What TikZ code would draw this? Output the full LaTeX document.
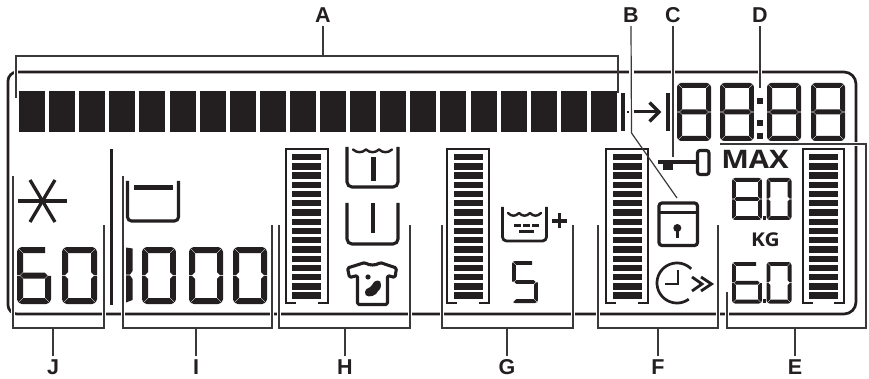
\documentclass[tikz,border=0pt]{standalone}
\usepackage{fontspec}
\setmainfont{Liberation Sans}
\newfontfamily\opfont{Open Sans}
\definecolor{ink}{HTML}{231F20}
\definecolor{leadc}{HTML}{3A3839}
\tikzset{
  lbl/.style={font=\bfseries\fontsize{21.5}{24}\selectfont,text=ink,inner sep=3pt},
  lead/.style={draw=leadc,line width=1.2pt},
  halo/.style={draw=white,line width=4.5pt},
  frameline/.style={draw=ink,line width=2.7pt},
  icon/.style={draw=ink,line width=3.1pt},
  gaugeline/.style={draw=ink,line width=2.2pt},
  seg/.style={fill=ink,draw=none},
}
\def\G{0.4}
\newcommand\sega{\fill[seg] (\G,0)--({\W-\G},0)--({\W-\T-\G},\T)--({\T+\G},\T)--cycle;}
\newcommand\segp{\fill[seg] (\G,0)--({\W-6},0)--({\W-6},\T)--({\T+\G},\T)--cycle;}
\newcommand\segb{\fill[seg] (\W,\G)--(\W,{\M-\G})--({\W-\T/2},{\M-\G})--({\W-\T},{\M-\T/2-\G})--({\W-\T},{\T+\G})--cycle;}
\newcommand\segc{\fill[seg] (\W,{\H-\G})--(\W,{\M+\G})--({\W-\T/2},{\M+\G})--({\W-\T},{\M+\T/2+\G})--({\W-\T},{\H-\T-\G})--cycle;}
\newcommand\segd{\fill[seg] (\G,\H)--({\W-\G},\H)--({\W-\T-\G},{\H-\T})--({\T+\G},{\H-\T})--cycle;}
\newcommand\sege{\fill[seg] (0,{\H-\G})--(0,{\M+\G})--({\T/2},{\M+\G})--(\T,{\M+\T/2+\G})--(\T,{\H-\T-\G})--cycle;}
\newcommand\segf{\fill[seg] (0,\G)--(0,{\M-\G})--({\T/2},{\M-\G})--(\T,{\M-\T/2-\G})--(\T,{\T+\G})--cycle;}
\newcommand\segg{\fill[seg] ({\T/2+\G},\M)--({\T+\G},{\M-\T/2})--({\W-\T-\G},{\M-\T/2})--({\W-\T/2-\G},\M)--({\W-\T-\G},{\M+\T/2})--({\T+\G},{\M+\T/2})--cycle;}
\newcommand\dig[6]{%
  \begin{scope}[shift={(#1,#2)}]
    \def\W{#3}\def\H{#4}\def\T{#5}\pgfmathsetmacro\M{#4/2}
    \clip[rounded corners=#5*0.8pt] (0,0) rectangle (\W,\H);
    \foreach \s in {#6}{\csname seg\s\endcsname}
  \end{scope}}
\newcommand\gauge[4]{%
  \draw[gaugeline] ({#1+10},303)--(#1,303)--(#1,149)--(#2,149)--(#2,303)--({#2-10},303);
  \foreach \i in {0,...,15}{\fill[ink] (#3,{154+9.23*\i}) rectangle (#4,{160.3+9.23*\i});}}
\newcommand\wave[3]{%
  \draw[ink,line width=2.4pt,line cap=round,line join=round] (#1,#2)
    .. controls ({#1+0.3*#3},{#2+3.6}) and ({#1+0.7*#3},{#2+3.6}) .. ({#1+#3},#2)
    .. controls ({#1+1.3*#3},{#2+3.6}) and ({#1+1.7*#3},{#2+3.6}) .. ({#1+2*#3},#2)
    .. controls ({#1+2.3*#3},{#2+3.6}) and ({#1+2.7*#3},{#2+3.6}) .. ({#1+3*#3},#2);}
\begin{document}
\begin{tikzpicture}[x=1pt,y=-1pt]
\useasboundingbox[fill=white] (0,0) rectangle (869,379);
% frame
\draw[frameline,rounded corners=9pt] (8,200)--(8,72)--(400,72);
\draw[frameline,rounded corners=12pt] (400,72)--(856,72)--(856,314)--(400,314);
\draw[frameline,rounded corners=9pt] (400,314)--(8,314)--(8,200);
% coordinates of the brackets
\coordinate (al) at (16,98); \coordinate (ar) at (618,93);
\coordinate (jl) at (13,176); \coordinate (jr) at (104,225);
\coordinate (il) at (123,176); \coordinate (ir) at (272,225);
\coordinate (hl) at (279,225); \coordinate (hr) at (410,225);
\coordinate (gl) at (442,225); \coordinate (gr) at (573,225);
\coordinate (fl) at (598,225); \coordinate (fr) at (718,225);
\coordinate (el) at (727,292); \coordinate (er) at (720,144);
\coordinate (bbend) at (631.5,133); \coordinate (bend) at (677,198);
\coordinate (ckey) at (673,157); \coordinate (dend) at (760,88);
% labels
\node[lbl] (A) at (323,15.5) {A};
\node[lbl] (B) at (631,15.5) {B};
\node[lbl] (C) at (673,15.5) {C};
\node[lbl] (D) at (760,15.5) {D};
\node[lbl] (J) at (53,367) {J};
\node[lbl] (I) at (196,367) {I};
\node[lbl] (H) at (345,367) {H};
\node[lbl] (G) at (507,367) {G};
\node[lbl] (F) at (658,367) {F};
\node[lbl] (E) at (795,367) {E};
% halos that break the frame
\foreach \p in {jl,jr,il,ir,hl,hr,gl,gr,fl,fr,el}{\draw[halo] (\p) -- (\p |- 0,320);}
\draw[halo] (16,56)--(al);
\draw[halo] (631.5,56)--(631.5,80);
\draw[halo] (673,56)--(673,80);
\draw[halo] (760,56)--(760,80);
\draw[draw=white,line width=3.5pt] (850,144)--(862,144);
% top bar row
\foreach \i in {0,...,19}{\fill[ink] ({19+30.1*\i},91) rectangle ({45+30.1*\i},132);}
\fill[ink] (621,93) rectangle (625,131);
\fill[ink] (627,110.8) rectangle (629.2,113.2);
\draw[ink,line width=3pt] (634,112)--(658,112);
\draw[ink,line width=3.4pt,line join=miter] (649.5,102.5)--(659,112)--(649.5,121.5);
\fill[ink] (666,93) rectangle (670,131);
% clock digits
\dig{677}{83}{34}{58}{5}{a,b,c,d,e,f,g}
\dig{720}{83}{34}{58}{5}{a,b,c,d,e,f,g}
\dig{767}{83}{34}{58}{5}{a,b,c,d,e,f,g}
\dig{811}{83}{34}{58}{5}{a,b,c,d,e,f,g}
\fill[ink] (757,98) rectangle (763,104);
\fill[ink] (757,120) rectangle (763,126);
\fill[ink] (757,133) rectangle (763,139);
% key
\draw[ink,line width=4pt] (658,162)--(697,162);
\fill[ink] (663,162) rectangle (673,170);
\draw[icon,rounded corners=2.5pt] (697.5,150.5) rectangle (709,174.5);
% MAX, KG
\node[inner sep=0,text=ink,font=\opfont\bfseries\fontsize{25.5}{28}\selectfont,xscale=1.15] (max) at (755,159) {MAX};
\node[inner sep=0,text=ink,font=\opfont\bfseries\fontsize{19}{22}\selectfont,xscale=1.1] (kg) at (765.5,240) {KG};
% weight digits
\dig{732}{178}{30}{42}{3.8}{a,b,c,d,e,f,g}
\fill[ink] (762.5,216.2) rectangle (765.5,220);
\dig{766.5}{178}{25}{42}{3.8}{a,b,c,d,e,f}
\dig{732}{262}{30}{41.5}{3.8}{p,c,d,e,f,g}
\fill[ink] (762.5,299.2) rectangle (765.5,303);
\dig{766.5}{262}{25}{41.5}{3.8}{a,b,c,d,e,f}
% gauges
\gauge{286}{328}{292}{321}
\gauge{447}{489}{454}{483}
\gauge{606}{648}{613}{642}
\gauge{803}{844}{809}{838}
% J and I content
\draw[ink,line width=3.3pt] (18,201)--(67,201);
\draw[ink,line width=3.3pt] (30,180)--(55,222);
\draw[ink,line width=3.3pt] (55,180)--(30,222);
\dig{17}{247}{34}{57}{6}{p,c,d,e,f,g}
\dig{62}{247}{35}{57}{6}{a,b,c,d,e,f}
\fill[ink] (109.5,149) rectangle (113,305);
\draw[icon,rounded corners=4pt] (127.5,181)--(127.5,221)--(178.5,221)--(178.5,181);
\fill[ink] (134,185.5) rectangle (173,190.5);
\fill[ink] (126,247.5)--(132.5,248.5)--(132.5,271)--(130,274.6)--(126,274.6)--cycle;
\fill[ink] (126,302.5)--(132.5,300)--(132.5,279)--(130,275.4)--(126,275.4)--cycle;
\dig{142}{247}{34}{57}{6}{a,b,c,d,e,f}
\dig{189}{247}{34}{57}{6}{a,b,c,d,e,f}
\dig{233}{247}{34}{57}{6}{a,b,c,d,e,f}
% H icons
\draw[icon,rounded corners=5pt] (347,147)--(347,187)--(398,187)--(398,147);
\wave{353}{149.5}{13}
\fill[ink] (371,157) rectangle (375.5,181);
\draw[icon,rounded corners=5pt] (347,203)--(347,244)--(398,244)--(398,203);
\fill[ink] (371,203) rectangle (375.2,233);
\draw[icon,line join=round,rounded corners=1.5pt] (365,262.5)
  .. controls (369,265.5) and (376,265.5) .. (380,262.5)
  --(396.5,268)--(395,277.5)--(387.5,275.5)--(387.5,304.5)--(357.5,304.5)--(357.5,275.5)--(349.5,277.5)--(347.5,268)--cycle;
\fill[ink] (368,277) circle[radius=2.6pt];
\fill[ink] (365,292) .. controls (366,287) and (370,289) .. (372,285)
  .. controls (374,279) and (382,279) .. (381,285)
  .. controls (381,290) and (378,290) .. (376,294)
  .. controls (372,297.5) and (364,297.5) .. (365,292) -- cycle;
% G icons
\draw[draw=ink,line width=2.8pt,rounded corners=4pt] (502.5,207)--(502.5,241)--(546.5,241)--(546.5,207);
\wave{508}{213}{11}
\foreach \q in {514,523,532}{\fill[ink] (\q,224) rectangle ({\q+7},227.5);}
\foreach \q in {513,518}{\fill[ink] ({\q+6},230) rectangle ({\q+11},233.5);}
\fill[ink] (528.5,230) rectangle (533.5,233.5);
\draw[ink,line width=3.4pt] (552,221)--(567,221);
\draw[ink,line width=3.4pt] (559.5,213.5)--(559.5,228.5);
\dig{512}{261}{26}{42}{3.8}{p,c,d,f,g}
% F icons
\draw[draw=ink,line width=3.2pt,rounded corners=3pt] (659,203)rectangle(697.5,245.5);
\draw[draw=ink,line width=2.8pt] (659,212.5)--(697.5,212.5);
\fill[ink] (677.3,228) circle[radius=4pt];
\fill[ink] (675.6,228) rectangle (679,238);
\draw[ink,line width=2.7pt] plot[domain=-306:-45,samples=60] ({677+20*cos(\x)},{283+20*sin(\x)});
\draw[ink,line width=2.7pt] (678,270)--(678,284)--(665,284);
\draw[ink,line width=2.8pt] (692,277)--(702,284)--(692,291);
\draw[ink,line width=2.8pt] (701,277)--(711.5,284)--(701,291);
% brackets and connectors
\draw[lead] (16,98)--(16,56)--(618,56)--(ar);
\draw[lead] (A.south)--(A.south |- 0,56);
\draw[lead] (B.south)--(bbend)--(bend);
\draw[lead] (C.south)--(ckey);
\draw[lead] (D.south)--(dend);
\draw[lead] (jl)--(13,328)--(104,328)--(jr);
\draw[lead] (il)--(123,328)--(272,328)--(ir);
\draw[lead] (hl)--(279,328)--(410,328)--(hr);
\draw[lead] (gl)--(442,328)--(573,328)--(gr);
\draw[lead] (fl)--(598,328)--(718,328)--(fr);
\draw[lead] (el)--(727,328)--(866,328)--(866,144)--(er);
\draw[lead] (J.north)--(J.north |- 0,328);
\draw[lead] (I.north)--(I.north |- 0,328);
\draw[lead] (H.north)--(H.north |- 0,328);
\draw[lead] (G.north)--(G.north |- 0,328);
\draw[lead] (F.north)--(F.north |- 0,328);
\draw[lead] (E.north)--(E.north |- 0,328);
\end{tikzpicture}
\end{document}
